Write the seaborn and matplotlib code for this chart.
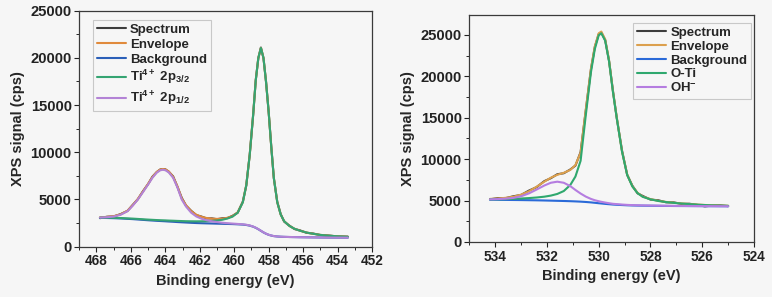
import matplotlib
matplotlib.use("Agg")
import matplotlib.pyplot as plt
import seaborn as sns
from matplotlib.ticker import MultipleLocator

# ------------------------------------------------------------
# Ti 2p region (left panel)
# ------------------------------------------------------------
ti_energy = [467.8, 467.4, 467.0, 466.6, 466.2, 465.9, 465.6, 465.3, 465.0, 464.75,
             464.5, 464.3, 464.15, 464.0, 463.8, 463.55, 463.3, 463.05, 462.8, 462.5,
             462.2, 461.9, 461.6, 461.3, 461.0, 460.7, 460.4, 460.1, 459.8, 459.5,
             459.3, 459.1, 458.9, 458.75, 458.6, 458.45, 458.3, 458.15, 458.0, 457.85,
             457.7, 457.5, 457.3, 457.1, 456.8, 456.5, 456.2, 455.8, 455.4, 455.0,
             454.5, 454.0, 453.4]

ti_spectrum = [3020, 3170, 3210, 3450, 3790, 4420, 5020, 5880, 6640, 7420,
               7900, 8180, 8220, 8200, 7930, 7450, 6350, 5180, 4350, 3800,
               3340, 3190, 2990, 3000, 2910, 3010, 3030, 3270, 3600, 4780,
               6480, 9760, 13950, 17650, 19960, 21100, 19950, 17450, 14250, 10650,
               7260, 4750, 3450, 2660, 2240, 1870, 1740, 1470, 1390, 1230,
               1180, 1090, 1060]

ti_envelope = [3110, 3155, 3230, 3425, 3810, 4385, 5060, 5845, 6670, 7375,
               7930, 8170, 8230, 8190, 7970, 7410, 6400, 5130, 4390, 3760,
               3380, 3165, 3035, 2965, 2945, 2965, 3060, 3235, 3640, 4730,
               6525, 9720, 14015, 17610, 20010, 21060, 20010, 17410, 14305, 10605,
               7305, 4705, 3403, 2703, 2202, 1902, 1702, 1502, 1362, 1252,
               1162, 1102, 1052]

ti_background = [3050, 3040, 3020, 2990, 2950, 2920, 2880, 2840, 2800, 2770,
                 2740, 2720, 2705, 2690, 2665, 2640, 2610, 2585, 2560, 2530,
                 2505, 2485, 2470, 2455, 2440, 2425, 2410, 2395, 2370, 2340,
                 2300, 2230, 2120, 2000, 1850, 1680, 1510, 1370, 1260, 1180,
                 1120, 1080, 1055, 1040, 1025, 1015, 1005, 995, 985, 975,
                 965, 960, 955]

ti_2p32 = [3080, 3075, 3060, 3035, 3000, 2975, 2940, 2905, 2870, 2845,
           2820, 2805, 2795, 2785, 2765, 2750, 2730, 2715, 2700, 2690,
           2685, 2690, 2705, 2730, 2775, 2850, 2980, 3180, 3600, 4700,
           6500, 9700, 14000, 17600, 20000, 21050, 20000, 17400, 14300, 10600,
           7300, 4700, 3400, 2700, 2200, 1900, 1700, 1500, 1360, 1250,
           1160, 1100, 1050]

ti_2p12 = [3080, 3120, 3190, 3380, 3760, 4330, 5000, 5780, 6600, 7300,
           7850, 8090, 8150, 8100, 7870, 7300, 6280, 5000, 4250, 3600,
           3200, 2960, 2800, 2690, 2610, 2540, 2490, 2450, 2410, 2370,
           2325, 2250, 2135, 2010, 1860, 1690, 1520, 1380, 1265, 1185,
           1125, 1085, 1058, 1043, 1027, 1017, 1007, 997, 987, 977,
           967, 962, 957]

# ------------------------------------------------------------
# O 1s region (right panel)
# ------------------------------------------------------------
o_energy = [534.2, 533.9, 533.6, 533.3, 533.0, 532.7, 532.4, 532.1, 531.85, 531.6,
            531.35, 531.1, 530.9, 530.7, 530.5, 530.3, 530.15, 530.0, 529.9, 529.75,
            529.6, 529.45, 529.3, 529.1, 528.9, 528.7, 528.5, 528.3, 528.0, 527.7,
            527.4, 527.1, 526.8, 526.5, 526.2, 525.9, 525.6, 525.3, 525.0]

o_spectrum = [5150, 5300, 5290, 5520, 5680, 6200, 6620, 7350, 7700, 8180,
              8300, 8750, 9220, 10850, 15880, 20850, 23550, 25100, 25300, 24380,
              21850, 18250, 14900, 11050, 8100, 6800, 5880, 5560, 5120, 5040,
              4790, 4780, 4600, 4620, 4480, 4300, 4400, 4420, 4330]

o_envelope = [5200, 5250, 5330, 5460, 5710, 6115, 6670, 7280, 7760, 8110,
              8350, 8695, 9280, 10780, 15950, 20920, 23610, 25190, 25400, 24460,
              21920, 18190, 14980, 10960, 8150, 6740, 5935, 5480, 5175, 4970,
              4837, 4735, 4653, 4581, 4520, 4469, 4428, 4397, 4376]

o_background = [5100, 5090, 5080, 5070, 5060, 5045, 5030, 5010, 4990, 4970,
                4950, 4925, 4900, 4870, 4830, 4780, 4730, 4680, 4650, 4600,
                4560, 4520, 4490, 4460, 4430, 4410, 4395, 4385, 4375, 4365,
                4355, 4345, 4340, 4335, 4330, 4325, 4320, 4315, 4310]

o_ti = [5150, 5160, 5180, 5210, 5250, 5300, 5370, 5470, 5600, 5800,
        6150, 6870, 7900, 9800, 15300, 20500, 23300, 24950, 25200, 24300,
        21800, 18100, 14900, 10900, 8100, 6700, 5900, 5450, 5150, 4950,
        4820, 4720, 4640, 4570, 4510, 4460, 4420, 4390, 4370]

o_oh = [5150, 5180, 5230, 5320, 5520, 5860, 6330, 6820, 7150, 7280,
        7150, 6750, 6280, 5850, 5480, 5200, 5040, 4920, 4850, 4760,
        4680, 4610, 4570, 4520, 4480, 4450, 4430, 4415, 4400, 4385,
        4372, 4360, 4353, 4346, 4340, 4334, 4328, 4322, 4316]

# ------------------------------------------------------------
# Style
# ------------------------------------------------------------
BG = "#f6f6f6"
sns.set_theme(style="ticks")
plt.rcParams["font.family"] = ["Liberation Sans", "DejaVu Sans"]
plt.rcParams["font.weight"] = "bold"
plt.rcParams["mathtext.fontset"] = "custom"
plt.rcParams["mathtext.rm"] = "Liberation Sans:bold"
plt.rcParams["mathtext.it"] = "Liberation Sans:bold"
plt.rcParams["mathtext.bf"] = "Liberation Sans:bold"
plt.rcParams["mathtext.default"] = "rm"

fig = plt.figure(figsize=(7.72, 2.97), dpi=100, facecolor=BG)
ax_ti = fig.add_axes([0.1027, 0.1694, 0.3791, 0.7946])
ax_o = fig.add_axes([0.6079, 0.1852, 0.3688, 0.7643])

LW = 1.5


def draw(ax, x, curves):
    for yvals, color, label in curves:
        sns.lineplot(x=x, y=yvals, ax=ax, color=color, linewidth=LW,
                     label=label, sort=False, estimator=None)


draw(ax_ti, ti_energy, [
    (ti_spectrum, "#3d3d3d", "Spectrum"),
    (ti_envelope, "#e08a3c", "Envelope"),
    (ti_background, "#2b5fb8", "Background"),
    (ti_2p32, "#35a472", r"Ti$^{4+}$ 2p$_{3/2}$"),
    (ti_2p12, "#b383d6", r"Ti$^{4+}$ 2p$_{1/2}$"),
])

draw(ax_o, o_energy, [
    (o_spectrum, "#3d3d3d", "Spectrum"),
    (o_envelope, "#dca04e", "Envelope"),
    (o_background, "#2a6ad8", "Background"),
    (o_ti, "#2fa86e", "O-Ti"),
    (o_oh, "#b57de0", r"OH$^{-}$"),
])


def style_axes(ax, xlim, ylim, leg_anchor, leg_spacing):
    ax.set_facecolor(BG)
    ax.set_xlim(*xlim)
    ax.set_ylim(*ylim)
    ax.xaxis.set_major_locator(MultipleLocator(2))
    ax.xaxis.set_minor_locator(MultipleLocator(1))
    ax.yaxis.set_major_locator(MultipleLocator(5000))
    ax.yaxis.set_minor_locator(MultipleLocator(2500))
    ax.tick_params(axis="both", which="major", direction="out", length=3.5,
                   width=0.8, pad=2, colors="#222222", top=False, right=False)
    ax.tick_params(axis="x", which="major", labelsize=9.8)
    ax.tick_params(axis="y", which="major", labelsize=10.6)
    ax.tick_params(axis="both", which="minor", direction="out", length=2,
                   width=0.7, top=False, right=False)
    for lab in ax.get_xticklabels() + ax.get_yticklabels():
        lab.set_fontweight("bold")
    for sp in ax.spines.values():
        sp.set_visible(True)
        sp.set_color("#3a3a3a")
        sp.set_linewidth(0.9)
    ax.set_xlabel("Binding energy (eV)", fontsize=10.5, fontweight="bold", labelpad=4)
    ax.set_ylabel("XPS signal (cps)", fontsize=10.5, fontweight="bold", labelpad=4)
    leg = ax.legend(loc="upper left", bbox_to_anchor=leg_anchor, frameon=True,
                    fancybox=False, edgecolor="#c8c8c8", facecolor=BG,
                    framealpha=1, prop={"size": 9.5, "weight": "bold"},
                    handlelength=2.2, handletextpad=0.3, labelspacing=leg_spacing,
                    borderpad=0.3, borderaxespad=0)
    leg.get_frame().set_linewidth(0.8)


style_axes(ax_ti, (469, 452), (0, 25000), (0.046, 0.962), 0.2)
style_axes(ax_o, (535, 524), (0, 27400), (0.576, 0.966), 0.12)

fig.savefig("out.png", dpi=100, facecolor=BG)
